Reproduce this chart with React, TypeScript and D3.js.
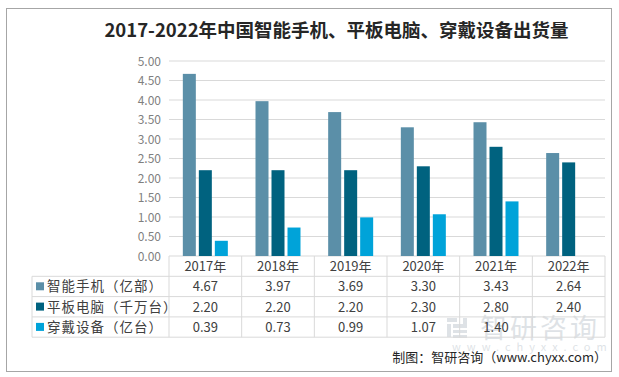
import React from "react";
import * as d3 from "d3";

const categories = ["2017年", "2018年", "2019年", "2020年", "2021年", "2022年"];
const seriesNames = ["智能手机（亿部）", "平板电脑（千万台）", "穿戴设备（亿台）"];
const phones = [4.67, 3.97, 3.69, 3.3, 3.43, 2.64];
const tablets = [2.2, 2.2, 2.2, 2.3, 2.8, 2.4];
const wearables: (number | null)[] = [0.39, 0.73, 0.99, 1.07, 1.4, null];
const yTicks = [0, 0.5, 1, 1.5, 2, 2.5, 3, 3.5, 4, 4.5, 5];
const colors = ["#5b8fa8", "#00627f", "#00a3d9"];
const title = "2017-2022年中国智能手机、平板电脑、穿戴设备出货量";
const source = "制图：智研咨询（www.chyxx.com）";

const W = 619;
const H = 377;
const plotLeft = 169;
const plotRight = 605;
const plotTop = 61;
const plotBottom = 256;
const rowH = 20.3;
const tableLeft = 32;
const font = "'Noto Sans CJK SC', 'Noto Sans', sans-serif";

export default function App() {
  const series = [phones, tablets, wearables];
  const x = d3.scaleBand<string>().domain(categories).range([plotLeft, plotRight]).padding(0);
  const y = d3.scaleLinear().domain([0, 5]).range([plotBottom, plotTop]);
  const bw = 13;
  const gap = 3;
  const groupW = bw * 3 + gap * 2;
  const rowTops = [0, 1, 2, 3].map((i) => plotBottom + rowH * (i + 1));
  const tableBottom = plotBottom + rowH * 4;
  const fmt = d3.format(".2f");

  return (
    <svg
      width={W}
      height={H}
      style={{ position: "absolute", left: 0, top: 0, background: "#fff" }}
      fontFamily={font}
    >
      <rect x={6.5} y={8.5} width={605} height={363} fill="#fff" stroke="#a6a6a6" strokeWidth={1} />
      <text x={336.5} y={37} textAnchor="middle" fontSize={18.5} fontWeight={700} fill="#262626">
        {title}
      </text>

      {/* watermark */}
      <g opacity={0.22} fill="#6f8090">
        <rect x={447} y={318} width={10} height={4} />
        <rect x={447} y={324} width={4} height={13} />
        <rect x={453} y={324} width={14} height={4} />
        <rect x={463} y={318} width={4} height={10} />
        <rect x={453} y={330} width={14} height={3} />
        <rect x={453} y={335} width={14} height={3} />
        <text x={480} y={338} fontSize={27} letterSpacing={3}>智研咨询</text>
        <text x={452} y={351} fontSize={11} letterSpacing={6}>www.chyxx.com</text>
      </g>

      {/* gridlines */}
      {yTicks.map((t) => (
        <line key={t} x1={plotLeft} x2={plotRight} y1={y(t)} y2={y(t)} stroke="#d9d9d9" strokeWidth={1} />
      ))}
      {yTicks.map((t) => (
        <text key={"l" + t} x={161} y={y(t) + 4.5} textAnchor="end" fontSize={12} fill="#7f7f7f">
          {fmt(t)}
        </text>
      ))}

      {/* bars */}
      {series.map((vals, si) =>
        vals.map((v, ci) =>
          v == null ? null : (
            <rect
              key={si + "-" + ci}
              x={x(categories[ci])! + (x.bandwidth() - groupW) / 2 + si * (bw + gap)}
              y={y(v)}
              width={bw}
              height={plotBottom - y(v)}
              fill={colors[si]}
            />
          )
        )
      )}

      {/* table lines */}
      {rowTops.map((ry, i) => (
        <line key={"h" + i} x1={tableLeft} x2={plotRight} y1={ry} y2={ry} stroke="#d9d9d9" />
      ))}
      <line x1={tableLeft} x2={tableLeft} y1={rowTops[0]} y2={tableBottom} stroke="#d9d9d9" />
      {[...categories.map((c) => x(c)!), plotRight].map((vx, i) => (
        <line key={"v" + i} x1={vx} x2={vx} y1={plotBottom} y2={tableBottom} stroke="#d9d9d9" />
      ))}

      {/* header */}
      {categories.map((c) => (
        <text key={c} x={x(c)! + x.bandwidth() / 2} y={plotBottom + 14.5} textAnchor="middle" fontSize={13} fill="#404040">
          {c}
        </text>
      ))}

      {/* rows */}
      {series.map((vals, si) => (
        <g key={"row" + si}>
          <rect x={36} y={rowTops[si] + 6} width={8} height={8} fill={colors[si]} />
          <text x={47} y={rowTops[si] + 15} fontSize={13.5} letterSpacing={1} fill="#404040">
            {seriesNames[si]}
          </text>
          {vals.map((v, ci) =>
            v == null ? null : (
              <text
                key={ci}
                x={x(categories[ci])! + x.bandwidth() / 2}
                y={rowTops[si] + 15}
                textAnchor="middle"
                fontSize={13}
                fill="#404040"
              >
                {fmt(v)}
              </text>
            )
          )}
        </g>
      ))}

      <text x={607} y={362} textAnchor="end" fontSize={13} fill="#262626">
        {source}
      </text>
    </svg>
  );
}
